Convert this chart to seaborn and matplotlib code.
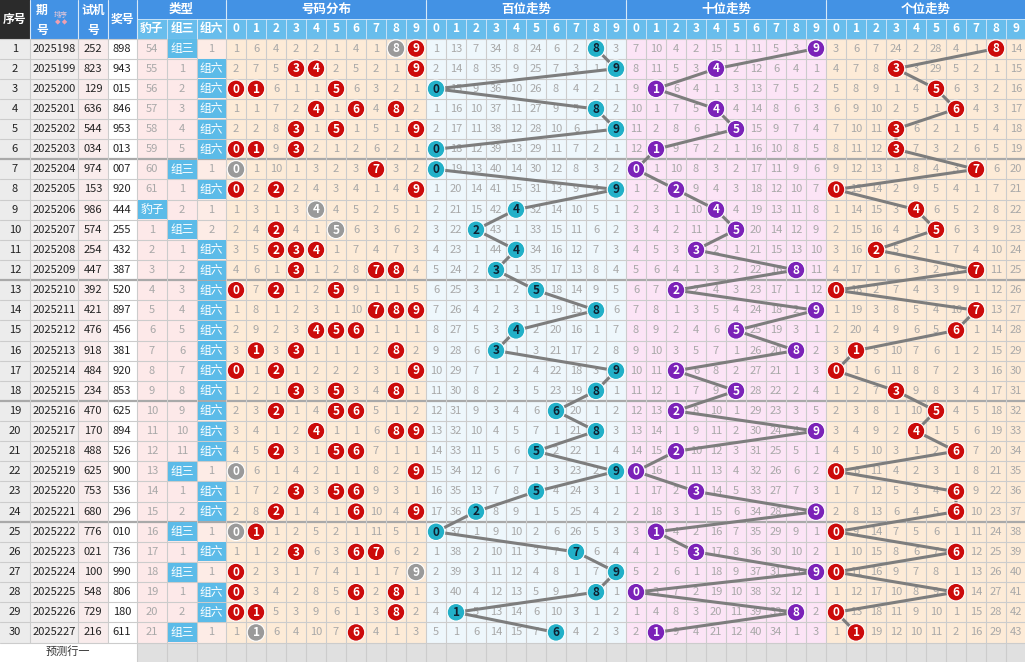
import numpy as np
import pandas as pd
import matplotlib
matplotlib.use('Agg')
import matplotlib.pyplot as plt
from matplotlib.patches import Rectangle
import seaborn as sns

# 数据 (期号 / 试机号 / 奖号)
periods = [str(p) for p in range(2025198, 2025228)]
test_nums = ['252', '823', '129', '636', '544', '034', '974', '153', '986', '574',
             '254', '447', '392', '421', '476', '918', '484', '234', '470', '170',
             '488', '625', '753', '680', '776', '021', '100', '548', '729', '216']
draws = ['898', '943', '015', '846', '953', '013', '007', '920', '444', '255',
         '432', '387', '520', '897', '456', '381', '920', '853', '625', '894',
         '526', '900', '536', '296', '010', '736', '990', '806', '180', '611']

# 第一行显示的遗漏值 (None = 命中)
dist_first = [1, 6, 4, 2, 2, 1, 4, 1, None, None]
bai_first = [1, 13, 7, 34, 8, 24, 6, 2, None, 3]
shi_first = [7, 10, 4, 2, 15, 1, 11, 5, 3, None]
ge_first = [3, 6, 7, 24, 2, 28, 4, 1, None, 14]
type_first = [54, None, 1]
type_names = ['豹子', '组三', '组六']
digits = [str(d) for d in range(10)]
sections = ['号码分布', '百位走势', '十位走势', '个位走势']


def run_omission(first, hits):
    cur = list(first)
    out = []
    for r, h in enumerate(hits):
        row = []
        for k in range(len(first)):
            if k in h:
                cur[k] = 0
                row.append(None)
            else:
                v = first[k] if r == 0 else cur[k] + 1
                cur[k] = v
                row.append(v)
        out.append(row)
    return out


def draw_type(s):
    n = len(set(s))
    return 0 if n == 1 else (1 if n == 2 else 2)


dist_om = run_omission(dist_first, [set(int(c) for c in s) for s in draws])
bai_om = run_omission(bai_first, [{int(s[0])} for s in draws])
shi_om = run_omission(shi_first, [{int(s[1])} for s in draws])
ge_om = run_omission(ge_first, [{int(s[2])} for s in draws])
type_om = run_omission(type_first, [{draw_type(s)} for s in draws])

# 布局
sns.set_theme(style='white')
plt.rcParams['font.family'] = ['Noto Sans CJK SC', 'DejaVu Sans']

W, H = 1025, 662
fig = plt.figure(figsize=(W / 100, H / 100), dpi=100)
ax = fig.add_axes([0, 0, 1, 1])

left_edges = [0, 30, 78, 108, 137, 167, 197, 226]
dx0 = 226
cw = 20
top = 38.5
rh = (642.5 - top) / 30
n = len(draws)


def ry(i):
    return top + i * rh


def rect(x0, y0, w, h, fc, z=0):
    ax.add_patch(Rectangle((x0, y0), w, h, facecolor=fc, edgecolor='none', zorder=z))


# 背景
col_bg = ['#ececec', '#f1eeee', '#f9ecec', '#ffffff', '#fde9e9', '#fde9e9', '#fdece6']
for c in range(7):
    rect(left_edges[c], top, left_edges[c + 1] - left_edges[c], rh * n, col_bg[c])
sec_bg = ['#fdebd7', '#eef7fc', '#fce4f6', '#fdebd7']
for s in range(4):
    rect(dx0 + s * 200, top, 200, rh * n, sec_bg[s])
rect(0, 642.5, 137, H - 642.5, '#ffffff')
rect(137, 642.5, W - 137, H - 642.5, '#e0e0e0')

# 表头
rect(0, 0, W, 19, '#4392e4')
rect(137, 19, W - 137, top - 19, '#68bdec')
rect(30, 0, 107, top, '#4392e4')
rect(0, 0, 30, top, '#2b2b2b')
for x in [30, 78, 108, 137, 226, 426, 626, 826]:
    ax.plot([x, x], [0, top], color='#d6e8f8', lw=0.8, zorder=1)
for x in list(range(167, 226, 30)) + [197] + list(range(dx0 + cw, 1025, cw)):
    ax.plot([x, x], [19, top], color='#d6e8f8', lw=0.6, zorder=1)
ax.plot([137, W], [19, 19], color='#d6e8f8', lw=0.6, zorder=1)

hkw = dict(ha='center', va='center', color='white', fontweight='bold', zorder=5)
ax.text(15, 19, '序号', fontsize=8.5, **hkw)
ax.text(42, 10, '期', fontsize=8.5, **hkw)
ax.text(42, 30, '号', fontsize=8.5, **hkw)
ax.text(61, 15, '排序', fontsize=5, ha='center', va='center', color='#e8c8d8', zorder=5)
ax.text(61, 23, '◆ ◆', fontsize=4, ha='center', va='center', color='#f0a0b0', zorder=5)
ax.text(93, 10, '试机', fontsize=8.5, **hkw)
ax.text(93, 30, '号', fontsize=8.5, **hkw)
ax.text(122, 19, '奖号', fontsize=8.5, **hkw)
ax.text(181, 9.5, '类型', fontsize=9, **hkw)
for k, t in enumerate(type_names):
    ax.text(152 + 30 * k - (1 if k == 2 else 0), 28.5, t, fontsize=8.5, **hkw)
for s in range(4):
    ax.text(dx0 + s * 200 + 100, 9.5, sections[s], fontsize=9, **hkw)
    for d in range(10):
        ax.text(dx0 + s * 200 + d * cw + cw / 2, 28.5, digits[d], fontsize=8.5, **hkw)

# 网格
for i in range(n + 1):
    y = ry(i)
    thick = i in (6, 12, 18, 24)
    ax.plot([0, W], [y, y], color='#a9a9a9' if thick else '#cccccc',
            lw=1.6 if thick else 0.8, zorder=1)
for x in left_edges[1:4]:
    ax.plot([x, x], [top, 642.5], color='#cccccc', lw=0.8, zorder=1)
for x in left_edges[4:] + list(range(dx0 + cw, 1026, cw)):
    ax.plot([x, x], [top, H], color='#cccccc', lw=0.8, zorder=1)

# 左侧文字
for i in range(n):
    yc = ry(i) + rh / 2
    ax.text(15, yc, str(i + 1), fontsize=8, ha='center', va='center', color='#222222', zorder=5)
    ax.text(54, yc, periods[i], fontsize=8, ha='center', va='center', color='#222222', zorder=5)
    ax.text(93, yc, test_nums[i], fontsize=8, ha='center', va='center', color='#222222', zorder=5)
    ax.text(122, yc, draws[i], fontsize=8, ha='center', va='center', color='#222222', zorder=5)
    for k in range(3):
        xc = 152 + 30 * k - (0.5 if k == 2 else 0)
        x0 = left_edges[4 + k]
        w = left_edges[5 + k] - x0
        if type_om[i][k] is None:
            rect(x0 + 0.5, ry(i) + 0.6, w - 1, rh - 1.2, '#5cbbe8', z=2)
            ax.text(xc, yc, type_names[k], fontsize=8.5, ha='center', va='center',
                    color='white', zorder=5)
        else:
            ax.text(xc, yc, str(type_om[i][k]), fontsize=8, ha='center', va='center',
                    color='#a8a8a8', zorder=5)
ax.text(68, 652, '预测行一', fontsize=8, ha='center', va='center', color='#333333', zorder=5)

# 遗漏值 + 命中圆点
om_sets = [dist_om, bai_om, shi_om, ge_om]
ball_fc = ['#cc0a0a', '#22b0c8', '#7b22b8', '#cc0a0a']
ball_tc = ['white', '#102030', 'white', 'white']
for s in range(4):
    hits = []
    for i in range(n):
        yc = ry(i) + rh / 2
        for d in range(10):
            xc = dx0 + s * 200 + d * cw + cw / 2
            v = om_sets[s][i][d]
            if v is None:
                fc = ball_fc[s]
                if s == 0 and draws[i].count(digits[d]) > 1:
                    fc = '#9a9a9a'
                hits.append({'x': xc, 'y': yc, 'd': digits[d], 'fc': fc})
            else:
                ax.text(xc, yc, str(v), fontsize=8, ha='center', va='center',
                        color='#a8a8a8', zorder=2)
    df = pd.DataFrame(hits)
    if s > 0:
        sns.lineplot(data=df, x='x', y='y', sort=False, estimator=None,
                     color='#7d7d7d', lw=2.2, ax=ax, zorder=3)
    sns.scatterplot(data=df, x='x', y='y', hue='fc', palette={c: c for c in df['fc'].unique()},
                    s=160, edgecolor='white', linewidth=0.8, legend=False, ax=ax, zorder=4)
    for _, r in df.iterrows():
        ax.text(r['x'], r['y'] + 0.3, r['d'], fontsize=8.5, fontweight='bold', ha='center',
                va='center', color=ball_tc[s], zorder=6)

ax.set_xlim(0, W)
ax.set_ylim(H, 0)
ax.axis('off')
fig.savefig('out.png', dpi=100)
